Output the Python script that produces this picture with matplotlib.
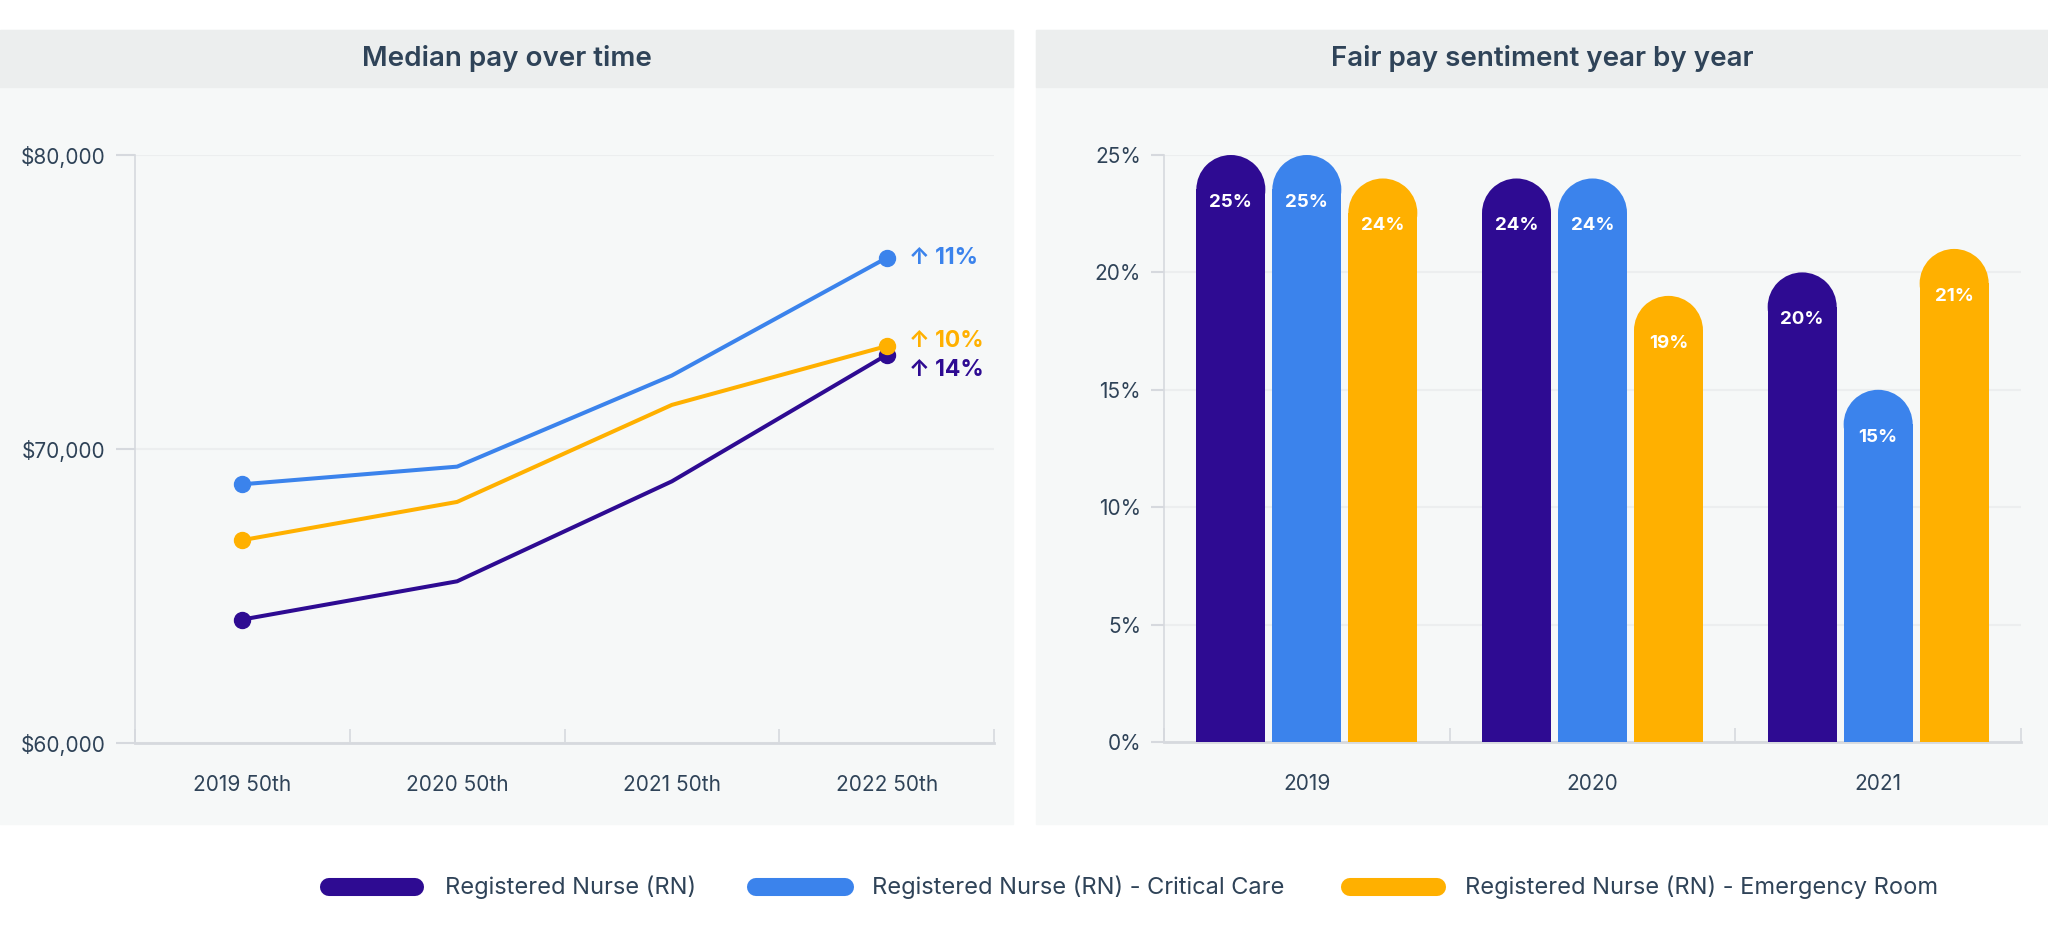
import matplotlib
matplotlib.use('Agg')
import matplotlib.pyplot as plt
from matplotlib.patches import Rectangle, Ellipse
from matplotlib.lines import Line2D
from matplotlib.ticker import FuncFormatter, FixedLocator
import numpy as np

plt.rcParams['font.family'] = ['Inter', 'DejaVu Sans']

# data
series = ['Registered Nurse (RN)',
          'Registered Nurse (RN) - Critical Care',
          'Registered Nurse (RN) - Emergency Room']
colors = ['#2e0b92', '#3b83ec', '#ffb000']

pay_labels = ['2019 50th', '2020 50th', '2021 50th', '2022 50th']
pay_rn = [64200, 65500, 68900, 73200]
pay_cc = [68800, 69400, 72500, 76500]
pay_er = [66900, 68200, 71500, 73500]
pay_change = ['14%', '11%', '10%']

years = ['2019', '2020', '2021']
fair_rn = [25, 24, 20]
fair_cc = [25, 24, 15]
fair_er = [24, 19, 21]

text_c = '#2f4358'
spine_c = '#d6d9de'
grid_c = '#eceeef'
panel_c = '#f6f8f8'
band_c = '#eceeee'

W, H = 2048, 940
fig = plt.figure(figsize=(W / 100, H / 100), dpi=100)
fig.patch.set_facecolor('white')


def fx(px):
    return px / W


def fy(py):
    return 1 - py / H


# panel backgrounds + title bands
for x0, x1, title in [(0, 1013, 'Median pay over time'),
                      (1036, 2048, 'Fair pay sentiment year by year')]:
    fig.patches.append(Rectangle((fx(x0), fy(824)), fx(x1 - x0), (824 - 30) / H,
                                 transform=fig.transFigure, color=panel_c, zorder=-2))
    fig.patches.append(Rectangle((fx(x0), fy(87)), fx(x1 - x0), (87 - 30) / H,
                                 transform=fig.transFigure, color=band_c, zorder=-1))
    fig.text(fx((x0 + x1) / 2), fy(58), title, ha='center', va='center',
             fontsize=20, fontweight='semibold', color=text_c)


def style_axes(ax, ytick_len):
    ax.set_facecolor('none')
    for s in ['top', 'right']:
        ax.spines[s].set_visible(False)
    ax.spines['left'].set_color(spine_c)
    ax.spines['left'].set_linewidth(1.2)
    ax.spines['bottom'].set_color(spine_c)
    ax.spines['bottom'].set_linewidth(2)
    ax.grid(axis='y', color=grid_c, linewidth=1.5)
    ax.set_axisbelow(True)
    ax.tick_params(axis='y', length=ytick_len, width=1.5, color=spine_c,
                   labelsize=15, labelcolor=text_c, pad=7)
    ax.tick_params(axis='x', which='major', length=0, labelsize=15,
                   labelcolor=text_c, pad=23)
    ax.tick_params(axis='x', which='minor', length=10, width=1.2,
                   color=spine_c, direction='in')


# left: median pay lines
ax1 = fig.add_axes([fx(135), fy(743), fx(994 - 135), (743 - 155) / H])
x = np.arange(len(pay_labels))
for vals, c in zip([pay_rn, pay_cc, pay_er], colors):
    ax1.plot(x, vals, color=c, lw=2.9, marker='o', markersize=11.5,
             markevery=[0, len(vals) - 1], zorder=3)
ax1.set_xlim(-0.5, len(pay_labels) - 0.5)
ax1.set_ylim(60000, 80000)
ax1.set_yticks([60000, 70000, 80000])
ax1.yaxis.set_major_formatter(FuncFormatter(lambda v, p: '${:,.0f}'.format(v)))
ax1.set_xticks(x)
ax1.set_xticklabels(pay_labels)
ax1.xaxis.set_minor_locator(FixedLocator(np.arange(len(pay_labels) + 1) - 0.5))
style_axes(ax1, 14)

offsets = [-11, 0, 4]
for vals, c, lab, dy in zip([pay_rn, pay_cc, pay_er], colors, pay_change, offsets):
    ax1.annotate('\u2191 ' + lab, (x[-1], vals[-1]), xytext=(16, dy),
                 textcoords='offset points', ha='left', va='center',
                 fontsize=16.5, fontweight='bold', color=c)

# right: fair pay rounded bars
ax2 = fig.add_axes([fx(1164), fy(742), fx(2021 - 1164), (742 - 155) / H])
ax2.set_xlim(-0.5, len(years) - 0.5)
ax2.set_ylim(0, 25)
gx = np.arange(len(years))
bw = 0.2415
step = 0.266
p0 = ax2.transData.transform((0, 0))
p1 = ax2.transData.transform((1, 1))
px_x, px_y = p1[0] - p0[0], p1[1] - p0[1]
r = bw * px_x / 2 / px_y
for i, (vals, c) in enumerate(zip([fair_rn, fair_cc, fair_er], colors)):
    xs = gx + (i - 1) * step
    ax2.bar(xs, np.array(vals) - r, width=bw, color=c, linewidth=0, zorder=3)
    for xx, v in zip(xs, vals):
        ax2.add_patch(Ellipse((xx, v - r), bw, 2 * r, color=c, linewidth=0, zorder=3))
        ax2.text(xx, v - r - 0.55, '{}%'.format(v), ha='center', va='center',
                 fontsize=13.5, fontweight='bold', color='white', zorder=4)
ax2.set_yticks([0, 5, 10, 15, 20, 25])
ax2.yaxis.set_major_formatter(FuncFormatter(lambda v, p: '{:.0f}%'.format(v)))
ax2.set_xticks(gx)
ax2.set_xticklabels(years)
ax2.xaxis.set_minor_locator(FixedLocator(np.arange(len(years) + 1) - 0.5))
style_axes(ax2, 9.5)

# legend
legend_pos = [(320, 424, 445), (747, 854, 872), (1341, 1446, 1465)]
for (s0, s1, tx), c, name in zip(legend_pos, colors, series):
    fig.add_artist(Line2D([fx(s0 + 9), fx(s1 - 9)], [fy(887), fy(887)],
                          transform=fig.transFigure, color=c, lw=13,
                          solid_capstyle='round'))
    fig.text(fx(tx), fy(887), name, ha='left', va='center',
             fontsize=17, color=text_c)

fig.savefig('out.png', dpi=100, facecolor='white')
